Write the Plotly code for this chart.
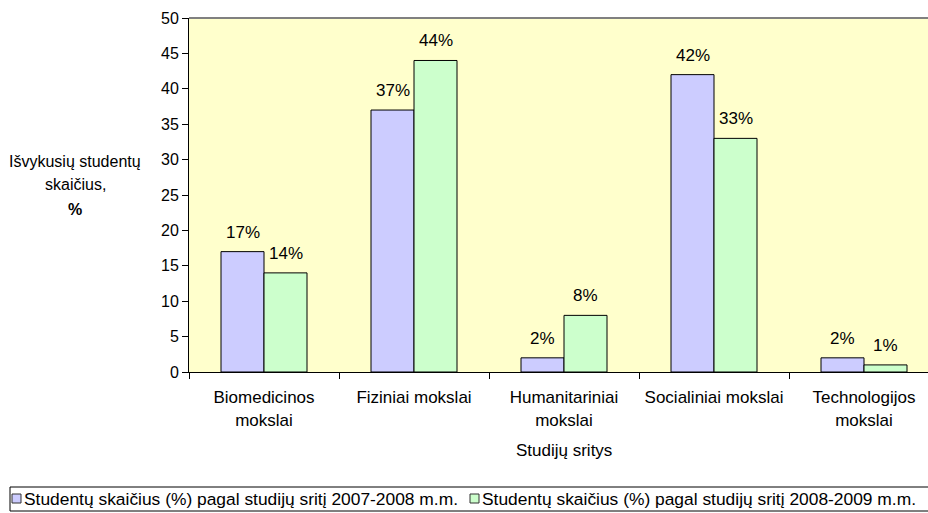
import plotly.graph_objects as go

categories = ["Biomedicinos<br>mokslai", "Fiziniai mokslai", "Humanitariniai<br>mokslai",
              "Socialiniai mokslai", "Technologijos<br>mokslai"]
series_2007 = [17, 37, 2, 42, 2]
series_2008 = [14, 44, 8, 33, 1]
name_2007 = "Studentų skaičius (%) pagal studijų sritį 2007-2008 m.m."
name_2008 = "Studentų skaičius (%) pagal studijų sritį 2008-2009 m.m."
y_ticks = [0, 5, 10, 15, 20, 25, 30, 35, 40, 45, 50]
y_title_lines = ["Išvykusių studentų", "skaičius,", "<b>%</b>"]
x_title = "Studijų sritys"

FONT = "Liberation Sans, Arial, sans-serif"
W, H = 928, 513
L, R, T, B = 189, 0, 18, 141
plot_w = W - L - R
plot_h = H - T - B
cat_px = 150
x_max = -0.5 + plot_w / cat_px
colors = ["#CCCCFF", "#CCFFCC"]


def px_x(px):
    return (px - L) / plot_w


def px_y(py):
    return 1 - (py - T) / plot_h


fig = go.Figure()
fig.add_trace(go.Bar(x=categories, y=series_2007, name=name_2007, showlegend=False,
                     marker=dict(color=colors[0], line=dict(color="#000000", width=1))))
fig.add_trace(go.Bar(x=categories, y=series_2008, name=name_2008, showlegend=False,
                     marker=dict(color=colors[1], line=dict(color="#000000", width=1))))

bar_px = 43
annotations = []
for vals, shift in ((series_2007, -bar_px / 2), (series_2008, bar_px / 2)):
    for c, v in zip(categories, vals):
        annotations.append(dict(x=c, y=v, xref="x", yref="y", text=f"{v}%", showarrow=False,
                                xshift=shift, yshift=8, yanchor="bottom",
                                font=dict(family=FONT, size=17, color="black")))

for line, py in zip(y_title_lines, (161, 185, 209)):
    annotations.append(dict(x=px_x(75), y=px_y(py), xref="paper", yref="paper", text=line,
                            showarrow=False, xanchor="center", yanchor="middle",
                            font=dict(family=FONT, size=16, color="black")))

annotations.append(dict(x=2, y=px_y(450), xref="x", yref="paper", text=x_title,
                        showarrow=False, yanchor="middle",
                        font=dict(family=FONT, size=17, color="black")))

# legend (drawn manually to match the single-line boxed legend)
shapes = [dict(type="line", xref="paper", yref="paper", x0=0, x1=1, y0=1, y1=1,
               line=dict(color="#808080", width=2)),
          dict(type="rect", xref="paper", yref="paper", x0=px_x(10), x1=px_x(945),
               y0=px_y(487), y1=px_y(511), line=dict(color="black", width=1),
               fillcolor="white")]
leg_items = [(name_2007, colors[0], 12), (name_2008, colors[1], 470)]
for name, col, sx in leg_items:
    shapes.append(dict(type="rect", xref="paper", yref="paper", x0=px_x(sx), x1=px_x(sx + 9),
                       y0=px_y(503), y1=px_y(494), line=dict(color="#333333", width=1),
                       fillcolor=col))
    annotations.append(dict(x=px_x(sx + 10), y=px_y(499), xref="paper", yref="paper",
                            text=name, showarrow=False, xanchor="left", yanchor="middle",
                            font=dict(family=FONT, size=17.4, color="black")))

fig.update_layout(
    width=W, height=H,
    margin=dict(l=L, r=R, t=T, b=B, autoexpand=False),
    paper_bgcolor="white", plot_bgcolor="#FFFFCC",
    barmode="group", bargap=1 - 2 * bar_px / cat_px, bargroupgap=0,
    font=dict(family=FONT, size=16, color="black"),
    xaxis=dict(range=[-0.5, x_max], tickson="boundaries", ticks="outside", ticklen=6,
               tickcolor="black", showline=True, linecolor="black", linewidth=1,
               showgrid=False, tickfont=dict(size=17), fixedrange=True,
               ticklabelstandoff=10),
    yaxis=dict(range=[0, 50], tickvals=y_ticks, ticks="outside", ticklen=6, tickcolor="black",
               showline=True, linecolor="black", linewidth=1, showgrid=False, zeroline=False,
               tickfont=dict(size=16), fixedrange=True),
    showlegend=False,
    annotations=annotations,
    shapes=shapes,
)

fig.write_html("out.html", config={"displayModeBar": False},
               post_script="document.body.style.margin='0';document.body.style.overflow='hidden';")
